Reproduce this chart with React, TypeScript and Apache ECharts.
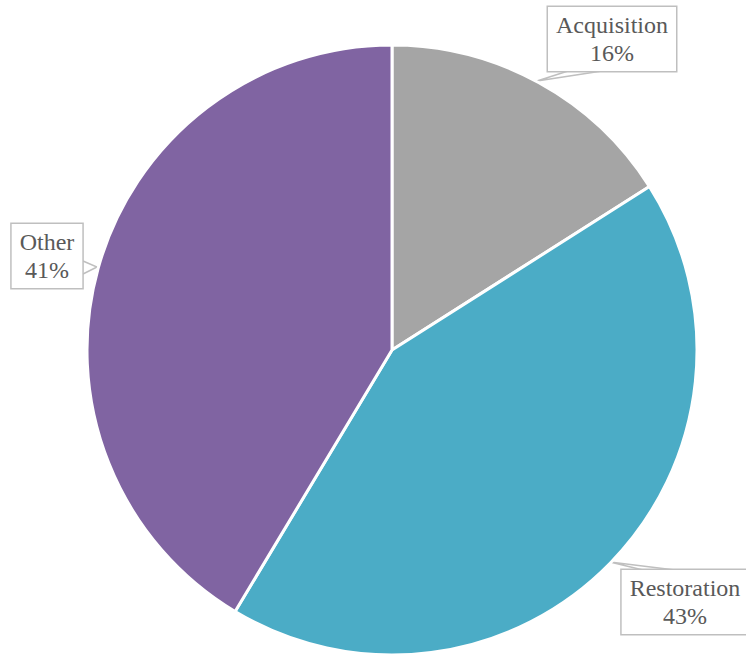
import React, { useEffect, useRef } from "react";
import * as echarts from "echarts";

const categories = ["Acquisition", "Restoration", "Other"];
const values = [16, 42.6, 41.4];
const colors = ["#a5a5a5", "#4bacc6", "#8064a2"];

// label box centers and callout wedge points (pixel layout)
const labelCenters = [
  [612, 39],
  [685, 602],
  [47, 256],
];
const wedgePoints = [
  [[568, 71], [537, 81], [602, 71]],
  [[643, 570], [610, 562], [675, 570]],
  [[83, 261], [97, 267], [83, 274]],
];

export default function App() {
  const ref = useRef<HTMLDivElement>(null);
  useEffect(() => {
    document.body.style.margin = "0";
    if (!ref.current) return;
    const chart = echarts.init(ref.current, undefined, { renderer: "svg" });
    chart.setOption({
      animation: false,
      backgroundColor: "#ffffff",
      series: [
        {
          type: "pie",
          center: [392, 350],
          radius: 305,
          startAngle: 90,
          clockwise: true,
          percentPrecision: 0,
          avoidLabelOverlap: false,
          itemStyle: { borderColor: "#ffffff", borderWidth: 3 },
          data: categories.map((c, i) => ({
            name: c,
            value: values[i],
            itemStyle: { color: colors[i] },
          })),
          label: {
            show: true,
            position: "outside",
            formatter: "{b}\n{d}%",
            fontFamily: "Liberation Serif",
            fontSize: 24,
            lineHeight: 28,
            color: "#595959",
            align: "center",
            verticalAlign: "middle",
            backgroundColor: "#ffffff",
            borderColor: "#bfbfbf",
            borderWidth: 1.5,
            padding: [4, 8, 4, 8],
          },
          labelLine: {
            show: true,
            lineStyle: { color: "#bfbfbf", width: 1.5 },
          },
          labelLayout: (params: any) => {
            const i = params.dataIndex;
            return {
              x: labelCenters[i][0],
              y: labelCenters[i][1],
              align: "center",
              verticalAlign: "middle",
              labelLinePoints: wedgePoints[i],
            };
          },
        },
      ],
    });
    return () => chart.dispose();
  }, []);
  return <div ref={ref} style={{ width: 746, height: 654 }} />;
}
